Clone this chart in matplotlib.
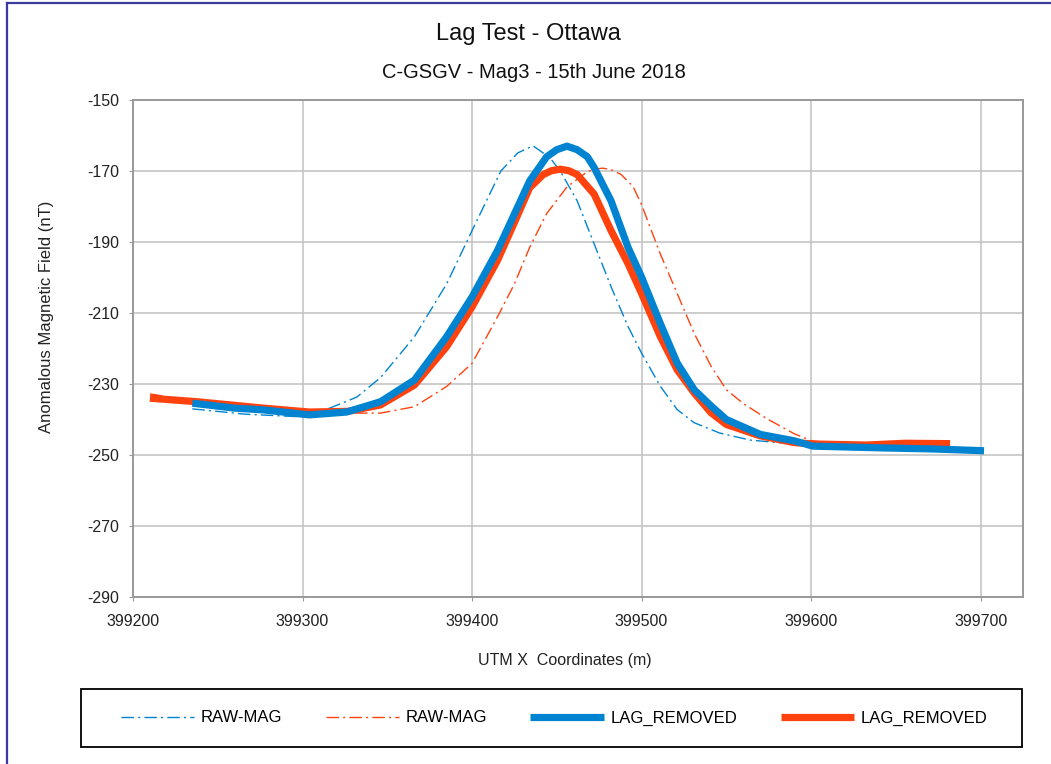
import matplotlib
matplotlib.use("Agg")
import matplotlib.pyplot as plt
from matplotlib.lines import Line2D
from matplotlib.patches import Rectangle

plt.rcParams['font.family'] = ['Liberation Sans', 'DejaVu Sans']

# UTM X (m) and anomalous field (nT) for each trace
raw_blue_x = [399235, 399266, 399297, 399316, 399332, 399346, 399366, 399385, 399400,
              399417, 399427, 399436, 399446, 399452, 399462, 399472, 399482, 399492,
              399500, 399511, 399521, 399531, 399546, 399564, 399583, 399599, 399630,
              399665, 399700]
raw_blue_y = [-237.0, -238.5, -239.2, -236.8, -233.7, -228.2, -216.7, -201.8, -186.8,
              -170.0, -164.9, -162.9, -166.3, -170.0, -178.4, -190.5, -202.6, -213.8,
              -221.3, -230.6, -237.2, -240.9, -243.8, -245.8, -246.6, -247.2, -247.8,
              -248.2, -248.6]

raw_red_x = [399210, 399232, 399266, 399300, 399334, 399346, 399366, 399385, 399400,
             399415, 399425, 399434, 399444, 399456, 399468, 399472, 399477, 399482,
             399488, 399495, 399500, 399511, 399521, 399531, 399541, 399550, 399560,
             399574, 399590, 399600, 399620, 399650, 399681]
raw_red_y = [-232.8, -234.5, -236.8, -237.7, -238.2, -238.2, -236.4, -230.7, -224.2,
             -211.1, -201.8, -191.5, -182.0, -174.5, -170.2, -169.5, -169.2, -169.6,
             -171.0, -174.4, -179.5, -193.3, -204.5, -215.7, -225.0, -231.6, -235.5,
             -239.8, -244.0, -246.0, -247.0, -247.0, -247.0]

lag_blue_x = [399235, 399260, 399277, 399304, 399326, 399346, 399366, 399385, 399400,
              399415, 399425, 399434, 399444, 399450, 399456, 399462, 399468, 399472,
              399482, 399492, 399500, 399511, 399521, 399531, 399541, 399550, 399570,
              399590, 399601, 399642, 399672, 399702]
lag_blue_y = [-235.4, -236.8, -237.3, -238.7, -237.9, -235.0, -228.9, -216.7, -205.5,
              -192.4, -182.1, -172.8, -166.0, -164.0, -163.0, -164.0, -166.0, -169.0,
              -178.4, -191.5, -199.9, -212.9, -224.1, -231.6, -236.2, -240.0, -244.2,
              -246.0, -247.5, -248.0, -248.3, -248.8]

lag_red_x = [399210, 399238, 399277, 399304, 399327, 399346, 399366, 399385, 399400,
             399415, 399425, 399434, 399442, 399447, 399452, 399457, 399462, 399472,
             399482, 399492, 399500, 399511, 399521, 399531, 399541, 399550, 399570,
             399590, 399601, 399633, 399655, 399682]
lag_red_y = [-234.0, -235.0, -236.8, -237.9, -237.7, -235.9, -230.3, -219.5, -208.3,
             -195.2, -184.5, -174.7, -171.0, -169.9, -169.5, -169.9, -171.0, -176.5,
             -186.8, -196.1, -204.5, -216.6, -226.0, -232.5, -238.1, -241.4, -244.6,
             -246.5, -246.9, -247.2, -246.7, -246.8]

x_ticks = [399200, 399300, 399400, 399500, 399600, 399700]
y_ticks = [-150, -170, -190, -210, -230, -250, -270, -290]

blue = '#0084d1'
red = '#ff420e'
dashdot = (0, (9, 3, 1.5, 3))

W, H = 1051, 764
fig = plt.figure(figsize=(W / 100, H / 100), dpi=100)
ax = fig.add_axes([133 / W, 1 - 597 / H, 890 / W, 497 / H])

thin = dict(lw=1.0, linestyle=dashdot, solid_joinstyle='round', dash_joinstyle='round')
thick = dict(lw=5.2, solid_capstyle='butt', solid_joinstyle='round')
ax.plot(raw_blue_x, raw_blue_y, color=blue, **thin)
ax.plot(raw_red_x, raw_red_y, color=red, **thin)
ax.plot(lag_red_x, lag_red_y, color=red, **thick)
ax.plot(lag_blue_x, lag_blue_y, color=blue, **thick)

ax.set_xlim(399200, 399725)
ax.set_ylim(-290, -150)
ax.set_xticks(x_ticks)
ax.set_yticks(y_ticks)
ax.set_xticklabels([str(v) for v in x_ticks])
ax.set_yticklabels([str(v) for v in y_ticks])
ax.grid(True, color='#c0c0c0', lw=1.1)
ax.set_axisbelow(True)
for s in ax.spines.values():
    s.set_color('#999999')
    s.set_linewidth(1.4)
ax.tick_params(axis='both', length=3, color='#999999', labelsize=11.5,
               labelcolor='#222222')
ax.tick_params(axis='x', pad=9)
ax.tick_params(axis='y', pad=7)

fig.text(528 / W, 1 - 34 / H, 'Lag Test - Ottawa', ha='center', va='center',
         fontsize=17, color='#111111')
fig.text(534 / W, 1 - 73 / H, 'C-GSGV - Mag3 - 15th June 2018', ha='center',
         va='center', fontsize=14.5, color='#111111')
fig.text(47 / W, 1 - 317 / H, 'Anomalous Magnetic Field (nT)', rotation=90,
         ha='center', va='center', fontsize=12, color='#222222')
fig.text(565 / W, 1 - 660 / H, 'UTM X  Coordinates (m)', ha='center', va='center',
         fontsize=11.5, color='#222222')

# legend box spans the width under the plot
fig.patches.append(Rectangle((81 / W, 1 - 747 / H), 941 / W, 58 / H,
                             transform=fig.transFigure, fill=False,
                             edgecolor='black', lw=1.3))
handles = [
    Line2D([], [], color=blue, lw=1.0, linestyle=dashdot),
    Line2D([], [], color=red, lw=1.0, linestyle=dashdot),
    Line2D([], [], color=blue, lw=5.2, solid_capstyle='butt'),
    Line2D([], [], color=red, lw=5.2, solid_capstyle='butt'),
]
fig.legend(handles, ['RAW-MAG', 'RAW-MAG', 'LAG_REMOVED', 'LAG_REMOVED'],
           loc='center', bbox_to_anchor=(554 / W, 1 - 718 / H), ncol=4,
           frameon=False, fontsize=12, handlelength=4.4, handletextpad=0.4,
           columnspacing=2.6)

# outer frame edges
fig.add_artist(Line2D([7 / W, 7 / W], [0, 1 - 3 / H], transform=fig.transFigure,
                      color='#3a3aa0', lw=1.6))
fig.add_artist(Line2D([7 / W, 1], [1 - 3 / H, 1 - 3 / H], transform=fig.transFigure,
                      color='#3a3aa0', lw=1.6))

fig.savefig('out.png', dpi=100)
